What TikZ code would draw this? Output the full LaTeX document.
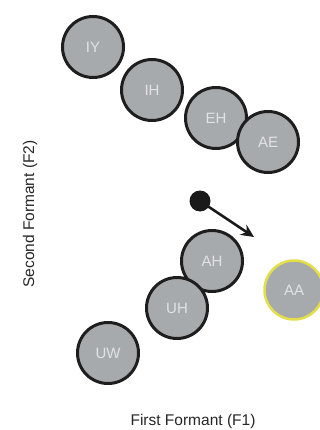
\documentclass[tikz,border=0pt]{standalone}
\usepackage{fontspec}
\setmainfont{Liberation Sans}
\usetikzlibrary{arrows.meta}
\definecolor{vowelfill}{RGB}{167,170,173}
\definecolor{vowelline}{RGB}{30,30,30}
\definecolor{vowelfont}{RGB}{225,226,228}
\definecolor{hilite}{RGB}{228,222,72}
\tikzset{
  vowel/.style={circle, draw=vowelline, line width=3pt, fill=vowelfill,
    minimum size=61pt, inner sep=0pt, text=vowelfont, font=\fontsize{15}{15}\selectfont},
  target/.style={vowel, draw=hilite, line width=2.5pt, minimum size=59pt},
  axislabel/.style={font=\fontsize{15.5}{16}\selectfont, text=black!85},
  probe/.style={circle, fill=black!90, minimum size=21pt, inner sep=0pt},
  move/.style={line width=2.6pt, black!90, -{Stealth[length=13pt, width=12pt]}}
}
\begin{document}
\begin{tikzpicture}[x=1pt, y=-1pt]
  \useasboundingbox (0,0) rectangle (320,430);
  \clip (0,0) rectangle (320,430);
  % front vowels
  \node[vowel] (IY) at (93,47) {IY};
  \node[vowel] (IH) at (152,90) {IH};
  \node[vowel] (EH) at (216,118) {EH};
  \node[vowel] (AE) at (268,142) {AE};
  % back vowels
  \node[vowel] (AH) at (212,261) {AH};
  \node[vowel] (UH) at (177,308) {UH};
  \node[vowel] (UW) at (108,353) {UW};
  % highlighted vowel
  \node[target] (AA) at (294,290) {AA};
  % current point and its movement
  \node[probe] (pt) at (200,201) {};
  \coordinate (dest) at (254,237);
  \draw[move] (pt.center) -- (dest);
  % axes
  \node[axislabel] (f1) at (193,421) {First Formant (F1)};
  \node[axislabel, rotate=90] (f2) at (30,214) {Second Formant (F2)};
\end{tikzpicture}
\end{document}
